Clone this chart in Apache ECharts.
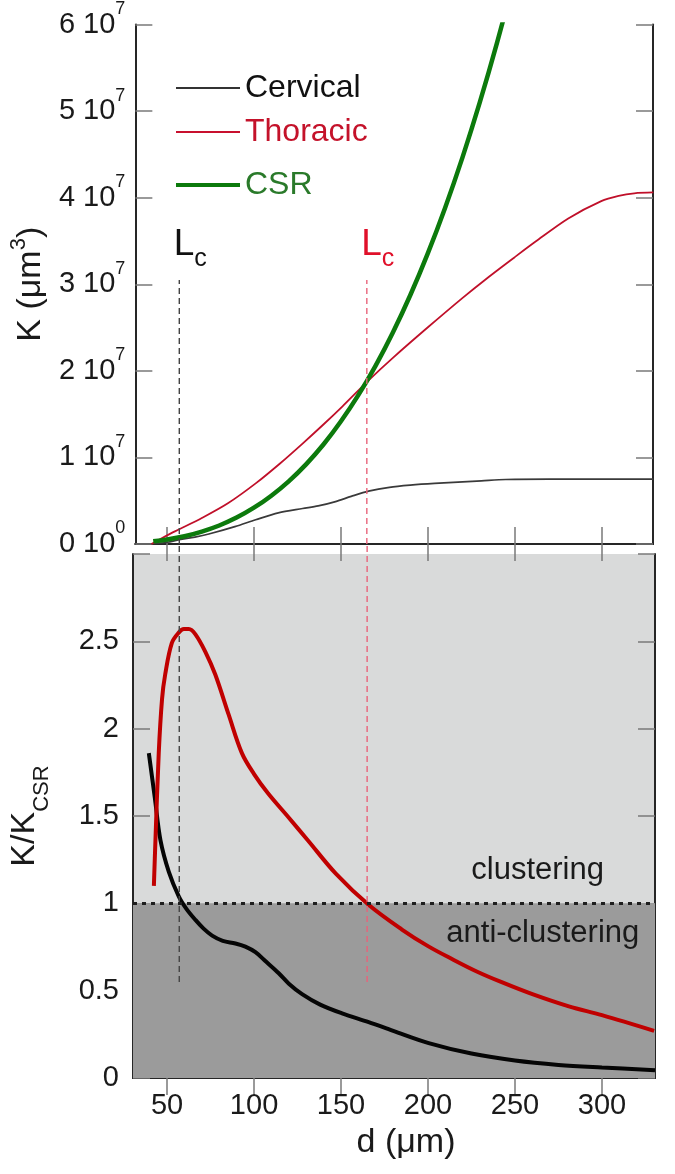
<!DOCTYPE html>
<html><head><meta charset="utf-8">
<script src="https://cdn.jsdelivr.net/npm/echarts@6/dist/echarts.min.js"></script>
<style>html,body{margin:0;padding:0;background:#fff}#c{width:675px;height:1174px}</style>
</head><body><div id="c"></div>
<script>
// ---------- data ----------
const xTicks = [50, 100, 150, 200, 250, 300];          // d (µm)
const kExp = 7;                                          // K axis in units of 10^7 µm^3

// Top panel: K(d) in units of 10^7 µm^3
const cervK_d = [41, 50, 57, 66, 74, 89, 101, 114, 128, 137, 147, 156, 166, 178, 190, 204, 231, 245, 270, 300, 330];
const cervK_v = [0, 0.02, 0.05, 0.08, 0.115, 0.2, 0.28, 0.36, 0.41, 0.44, 0.49, 0.55, 0.61, 0.655, 0.68, 0.70, 0.73, 0.745, 0.75, 0.75, 0.75];

const thorK_d = [41, 50, 57, 70, 85, 101, 115, 128, 140, 151, 166, 180, 200, 220, 233, 250, 262, 281, 300, 310, 319, 330];
const thorK_v = [0, 0.1, 0.17, 0.3, 0.47, 0.70, 0.93, 1.16, 1.38, 1.59, 1.89, 2.15, 2.50, 2.84, 3.05, 3.31, 3.49, 3.76, 3.96, 4.02, 4.05, 4.06];

const csrK_d = [42, 50, 60, 70, 80, 90, 100, 110, 120, 130, 140, 150, 160, 170, 180, 190, 200, 210, 220, 230, 240, 250];
const csrK_v = [0.031, 0.052, 0.09, 0.144, 0.214, 0.305, 0.419, 0.558, 0.724, 0.92, 1.149, 1.414, 1.716, 2.058, 2.443, 2.873, 3.351, 3.879, 4.46, 5.097, 5.791, 6.545];

// Bottom panel: K / K_CSR
const thorR_d = [42.4, 43.3, 45.2, 47.1, 48.9, 52.7, 56.7, 59.6, 62.5, 66.3, 72, 77.7, 85.4, 93, 100, 108, 120, 131, 147, 166, 185, 200, 214, 228, 242, 260, 281, 300, 330];
const thorR_v = [1.10, 1.36, 1.86, 2.17, 2.31, 2.49, 2.55, 2.57, 2.57, 2.54, 2.44, 2.31, 2.08, 1.86, 1.74, 1.63, 1.49, 1.36, 1.17, 0.99, 0.85, 0.755, 0.68, 0.61, 0.55, 0.48, 0.41, 0.36, 0.27];

const cervR_d = [39.5, 43, 46.2, 51, 56.7, 61, 66.3, 71, 75.9, 82, 89.3, 95, 100.8, 107, 114.2, 120, 127.6, 138, 150.6, 165.9, 180, 200.4, 225, 250, 275, 300, 330.5];
const cervR_v = [1.86, 1.6, 1.36, 1.18, 1.04, 0.97, 0.905, 0.855, 0.815, 0.785, 0.77, 0.752, 0.72, 0.665, 0.60, 0.54, 0.48, 0.42, 0.37, 0.32, 0.27, 0.20, 0.14, 0.10, 0.075, 0.06, 0.045];

// Critical lengths Lc
const lcCerv = 57, lcThor = 165;
const lcTopK = 3.05;     // top of dashed line in top panel (×10^7)
const lcBottomR = 0.55;  // bottom of dashed line in bottom panel
const ratioOne = 1;
const zoneLabels = ['clustering', 'anti-clustering'];
const zoneLabelPos = [[263, 1.19], [266, 0.83]];

// ---------- chart ----------
const FONT = "'Liberation Sans', Arial, Helvetica, sans-serif";
const TXT = '#1a1a1a';
const zip = (a, b) => a.map((v, i) => [v, b[i]]);
const chart = echarts.init(document.getElementById('c'), null, { renderer: 'canvas' });

const axisLine = { show: true, lineStyle: { color: '#262626', width: 2 } };
const tickStyle = { color: '#7a7a7a', width: 1.5 };

function xAx(grid, pos, min, max, labels) {
  return {
    type: 'value', gridIndex: grid, position: pos, min: min, max: max,
    axisLine: axisLine,
    axisTick: { show: true, inside: true, length: 17, customValues: xTicks, lineStyle: tickStyle },
    axisLabel: labels ? { show: true, customValues: xTicks, fontSize: 29, color: TXT, fontFamily: FONT, margin: 13 } : { show: false },
    splitLine: { show: false }
  };
}

const lcLabel = (color) => ({
  show: true, position: 'top', distance: 16, offset: [11, 0],
  formatter: '{L|L}{c|c}',
  rich: {
    L: { fontSize: 37, lineHeight: 37, color: color, fontFamily: FONT, verticalAlign: 'top' },
    c: { fontSize: 25, lineHeight: 25, color: color, fontFamily: FONT, verticalAlign: 'top', padding: [20, 0, 0, 0] }
  }
});

function lcSeries(name, x, axesIdx, from, to, color, withLabel, clip) {
  const s = {
    name: name, type: 'line', xAxisIndex: axesIdx, yAxisIndex: axesIdx,
    data: [[x, from], [x, to]], symbol: 'none', clip: clip, z: 4, silent: true,
    lineStyle: { color: color, width: 1.4, type: [6, 4] }
  };
  if (withLabel) {
    s.markPoint = {
      symbol: 'circle', symbolSize: 1, itemStyle: { color: 'rgba(0,0,0,0)' }, silent: true,
      data: [{ coord: [x, to], label: lcLabel(withLabel) }]
    };
  }
  return s;
}

const legendBase = (name, top, h, txtColor) => ({
  data: [name], left: 176, top: top, padding: 0, icon: 'rect',
  itemWidth: 64, itemHeight: h, selectedMode: false,
  textStyle: { fontSize: 32, lineHeight: 32, color: txtColor, fontFamily: FONT }
});

const option = {
  animation: false,
  backgroundColor: '#ffffff',
  textStyle: { fontFamily: FONT },
  grid: [
    { left: 133, top: 23, width: 520, height: 521, containLabel: false },
    { left: 130, top: 554, width: 525, height: 524, show: true, backgroundColor: '#d9dada', borderWidth: 0, containLabel: false }
  ],
  legend: [
    legendBase('Cervical', 72, 2, '#111111'),
    legendBase('Thoracic', 116, 2, '#c4122a'),
    legendBase('CSR', 169, 4, '#2a7a2a')
  ],
  xAxis: [
    xAx(0, 'bottom', 31.7, 329.8, false),
    xAx(0, 'top', 31.7, 329.8, false),
    Object.assign(xAx(1, 'bottom', 30.4, 330.5, true), {
      name: '{p|}{a|d (μm)}', nameLocation: 'middle', nameGap: 48,
      nameTextStyle: { rich: {
        p: { width: 24, fontSize: 34 },
        a: { fontSize: 34, color: TXT, fontFamily: FONT }
      } }
    }),
    xAx(1, 'top', 30.4, 330.5, false)
  ],
  yAxis: [
    {
      type: 'value', gridIndex: 0, position: 'left', min: 0, max: 6, interval: 1,
      axisLine: axisLine,
      axisTick: { show: true, inside: true, length: 17, lineStyle: tickStyle },
      axisLabel: {
        show: true, margin: 10, color: TXT, fontFamily: FONT,
        formatter: v => v === 0 ? '{a|0 10}{s|0}' : '{a|' + v + ' 10}{s|' + kExp + '}',
        rich: {
          a: { fontSize: 29, lineHeight: 29, color: TXT, fontFamily: FONT, verticalAlign: 'bottom' },
          s: { fontSize: 18, lineHeight: 18, color: TXT, fontFamily: FONT, verticalAlign: 'bottom', padding: [0, 0, 21, 0] }
        }
      },
      splitLine: { show: false },
      name: '{a|K (μm}{s|3}{a|)}', nameLocation: 'middle', nameGap: 86,
      nameTextStyle: {
        rich: {
          a: { fontSize: 34, lineHeight: 36, color: TXT, fontFamily: FONT, verticalAlign: 'bottom' },
          s: { fontSize: 22, lineHeight: 22, color: TXT, fontFamily: FONT, verticalAlign: 'bottom', padding: [0, 0, 18, 0] }
        }
      }
    },
    {
      type: 'value', gridIndex: 0, position: 'right', min: 0, max: 6, interval: 1,
      axisLine: axisLine,
      axisTick: { show: true, inside: true, length: 17, lineStyle: tickStyle },
      axisLabel: { show: false }, splitLine: { show: false }
    },
    {
      type: 'value', gridIndex: 1, position: 'left', min: 0, max: 3, interval: 0.5,
      axisLine: axisLine,
      axisTick: { show: true, inside: true, length: 17, lineStyle: tickStyle },
      axisLabel: {
        show: true, margin: 14, fontSize: 29, color: TXT, fontFamily: FONT,
        formatter: v => v >= 3 ? '' : String(v)
      },
      splitLine: { show: false },
      name: '{a|K/K}{s|CSR}', nameLocation: 'middle', nameGap: 80,
      nameTextStyle: {
        rich: {
          a: { fontSize: 34, lineHeight: 36, color: TXT, fontFamily: FONT, verticalAlign: 'bottom', padding: [0, 0, 11, 0] },
          s: { fontSize: 22, lineHeight: 22, color: TXT, fontFamily: FONT, verticalAlign: 'bottom' }
        }
      }
    },
    {
      type: 'value', gridIndex: 1, position: 'right', min: 0, max: 3, interval: 0.5,
      axisLine: axisLine,
      axisTick: { show: true, inside: true, length: 17, lineStyle: tickStyle },
      axisLabel: { show: false }, splitLine: { show: false }
    }
  ],
  series: [
    // zones in bottom panel
    {
      name: 'zones', type: 'line', xAxisIndex: 2, yAxisIndex: 2, data: [], z: 1, silent: true,
      markArea: {
        silent: true,
        itemStyle: { color: '#9b9b9b' },
        data: [[{ yAxis: 0 }, { yAxis: ratioOne }]]
      },
      markLine: {
        silent: true, symbol: ['none', 'none'], label: { show: false },
        lineStyle: { color: '#1e1e1e', width: 3, type: [4, 5] },
        data: [{ yAxis: ratioOne }]
      },
      markPoint: {
        symbol: 'rect', symbolSize: 1, itemStyle: { color: 'rgba(0,0,0,0)' }, silent: true,
        label: { show: true, position: 'inside', formatter: '{b}', fontSize: 31, color: TXT, fontFamily: FONT },
        data: zoneLabels.map((n, i) => ({ name: n, coord: zoneLabelPos[i] }))
      }
    },
    // top panel
    {
      name: 'Cervical', type: 'line', xAxisIndex: 0, yAxisIndex: 0, data: zip(cervK_d, cervK_v),
      symbol: 'none', smooth: 0.3, z: 3, itemStyle: { color: '#333333' },
      lineStyle: { color: '#3a3a3a', width: 1.7 }
    },
    {
      name: 'Thoracic', type: 'line', xAxisIndex: 0, yAxisIndex: 0, data: zip(thorK_d, thorK_v),
      symbol: 'none', smooth: 0.3, z: 3, itemStyle: { color: '#c8102e' },
      lineStyle: { color: '#c0102a', width: 1.8 }
    },
    {
      name: 'CSR', type: 'line', xAxisIndex: 0, yAxisIndex: 0, data: zip(csrK_d, csrK_v),
      symbol: 'none', smooth: 0.4, z: 3, itemStyle: { color: '#0c7a0c' },
      lineStyle: { color: '#0c7a0c', width: 4.5 }
    },
    lcSeries('LcC', lcCerv, 0, 0, lcTopK, '#444444', '#111111', false),
    lcSeries('LcT', lcThor, 0, 0, lcTopK, '#e8637a', '#e0102a', false),
    // bottom panel
    lcSeries('LcC2', lcCerv, 2, lcBottomR, 3.06, '#444444', null, false),
    lcSeries('LcT2', lcThor, 2, lcBottomR, 3.06, '#e8637a', null, false),
    {
      name: 'Cervical', type: 'line', xAxisIndex: 2, yAxisIndex: 2, data: zip(cervR_d, cervR_v),
      symbol: 'none', smooth: 0.35, z: 3, itemStyle: { color: '#333333' },
      lineStyle: { color: '#050505', width: 4 }
    },
    {
      name: 'Thoracic', type: 'line', xAxisIndex: 2, yAxisIndex: 2, data: zip(thorR_d, thorR_v),
      symbol: 'none', smooth: 0.35, z: 3, itemStyle: { color: '#c8102e' },
      lineStyle: { color: '#c00000', width: 4 }
    }
  ]
};
chart.setOption(option);
</script>
</body></html>
